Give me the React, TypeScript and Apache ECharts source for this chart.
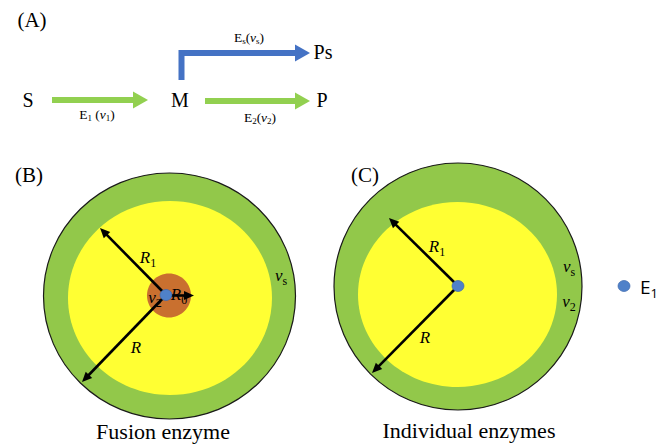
import React, { useEffect, useRef } from 'react';
import * as echarts from 'echarts';

const W = 670;
const H = 445;
const SERIF = '"Liberation Serif", "Times New Roman", serif';
const SANS = '"Open Sans", "Noto Sans", sans-serif';

const GREEN_ARROW = '#92D050';
const BLUE_ARROW = '#4472C4';
const RING = '#92C84A';
const YELLOW = '#FFFF33';
const ORANGE = '#C9702F';
const DOT = '#4F81C9';

// Panel labels
const panelLabels = [
  { t: '(A)', x: 32, y: 20 },
  { t: '(B)', x: 29, y: 175 },
  { t: '(C)', x: 365, y: 175 },
];
// Pathway nodes
const nodeLabels = [
  { t: 'S', x: 28, y: 100 },
  { t: 'M', x: 180, y: 100 },
  { t: 'P', x: 322, y: 100 },
  { t: 'Ps', x: 323, y: 52 },
];
// Pathway arrows (thick)
const flowArrows = [
  { pts: [[52, 100], [148, 100]], color: GREEN_ARROW },
  { pts: [[205, 101], [310, 101]], color: GREEN_ARROW },
  { pts: [[181.5, 80], [181.5, 53], [310, 53]], color: BLUE_ARROW },
];
// Rich labels
const richLabels = [
  { t: '{n|E}{s|1}{n| (}{i|v}{s|1}{n|)}', x: 97, y: 115, size: 13.5 },
  { t: '{n|E}{s|2}{n|(}{i|v}{s|2}{n|)}', x: 260, y: 118, size: 13.5 },
  { t: '{n|E}{s|s}{n|(}{i|v}{s|s}{n|)}', x: 249, y: 38, size: 13.5 },
  // panel B
  { t: '{i|R}{s|1}', x: 148, y: 258, size: 17 },
  { t: '{i|R}', x: 136, y: 348, size: 17 },
  { t: '{i|R}{s|0}', x: 179, y: 295, size: 17 },
  { t: '{i|v}{s|2}', x: 155, y: 298, size: 17 },
  { t: '{i|v}{s|s}', x: 281, y: 276, size: 17 },
  // panel C
  { t: '{i|R}{s|1}', x: 437, y: 247, size: 17 },
  { t: '{i|R}', x: 425, y: 338, size: 17 },
  { t: '{i|v}{s|s}', x: 569, y: 267, size: 17 },
  { t: '{i|v}{s|2}', x: 569, y: 302, size: 17 },
];
// Discs
const discs = [
  { cx: 169.5, cy: 296, rx: 126, ry: 123, fill: RING, stroke: '#1a1a1a' },
  { cx: 170, cy: 298, rx: 102, ry: 97, fill: YELLOW, stroke: null },
  { cx: 169, cy: 295.5, rx: 22, ry: 22, fill: ORANGE, stroke: null },
  { cx: 458, cy: 286.5, rx: 124, ry: 123.5, fill: RING, stroke: '#1a1a1a' },
  { cx: 457.5, cy: 294.5, rx: 99.5, ry: 92.5, fill: YELLOW, stroke: null },
];
// Radius arrows: from -> to
const radiusArrows = [
  { from: [166, 295], to: [100, 228] },
  { from: [166, 295], to: [82, 382] },
  { from: [166, 295.5], to: [194, 295.5] },
  { from: [458, 286], to: [389, 218] },
  { from: [458, 286], to: [372, 373] },
];
// Enzyme dots
const dots = [
  { cx: 166, cy: 295, r: 5.5 },
  { cx: 458, cy: 286, r: 5.5 },
  { cx: 624, cy: 286, r: 5.5 },
];
const captions = [
  { t: 'Fusion enzyme', x: 163, y: 431 },
  { t: 'Individual enzymes', x: 469, y: 430 },
];

function head(from: number[], to: number[], len: number, wid: number, fill: string) {
  const dx = to[0] - from[0];
  const dy = to[1] - from[1];
  const d = Math.hypot(dx, dy);
  const ux = dx / d, uy = dy / d;
  const px = -uy, py = ux;
  const bx = to[0] - ux * len, by = to[1] - uy * len;
  return {
    el: {
      type: 'polygon',
      shape: { points: [[to[0], to[1]], [bx + px * wid / 2, by + py * wid / 2], [bx - px * wid / 2, by - py * wid / 2]] },
      style: { fill },
      z: 10,
    },
    base: [bx + ux * 1, by + uy * 1],
  };
}

function richStyles(size: number, family: string) {
  const sub = Math.round(size * 0.68);
  return {
    n: { fontSize: size, fontFamily: family, lineHeight: size + 2, verticalAlign: 'top', fill: '#000', color: '#000' },
    i: { fontSize: size, fontFamily: family, fontStyle: 'italic', lineHeight: size + 2, verticalAlign: 'top', fill: '#000', color: '#000' },
    s: { fontSize: sub, fontFamily: family, lineHeight: sub, padding: [Math.round(size * 0.45), 0, 0, 0], verticalAlign: 'top', fill: '#000', color: '#000' },
  };
}

export default function App() {
  const ref = useRef<HTMLDivElement>(null);
  useEffect(() => {
    document.body.style.margin = '0';
    const chart = echarts.init(ref.current!, null, { renderer: 'svg' });
    const els: any[] = [];

    discs.forEach((d) => {
      els.push({
        type: 'ellipse',
        shape: { cx: d.cx, cy: d.cy, rx: d.rx, ry: d.ry },
        style: { fill: d.fill, stroke: d.stroke || undefined, lineWidth: d.stroke ? 1.2 : 0 },
        z: 1,
      });
    });

    flowArrows.forEach((a) => {
      const n = a.pts.length;
      const h = head(a.pts[n - 2], a.pts[n - 1], 15, 17, a.color);
      const pts = a.pts.slice(0, n - 1).concat([h.base]);
      els.push({
        type: 'polyline',
        shape: { points: pts },
        style: { stroke: a.color, lineWidth: 6, fill: null, lineJoin: 'miter', lineCap: 'butt' },
        z: 5,
      });
      els.push(h.el);
    });

    radiusArrows.forEach((a) => {
      const h = head(a.from, a.to, 10, 9, '#000');
      els.push({
        type: 'line',
        shape: { x1: a.from[0], y1: a.from[1], x2: h.base[0], y2: h.base[1] },
        style: { stroke: '#000', lineWidth: 2.6 },
        z: 6,
      });
      els.push(h.el);
    });

    dots.forEach((d) => {
      els.push({
        type: 'ellipse',
        shape: { cx: d.cx, cy: d.cy, rx: d.r + 0.5, ry: d.r },
        style: { fill: DOT, stroke: '#3a64a8', lineWidth: 0.6 },
        z: 12,
      });
    });

    const center = { align: 'center', verticalAlign: 'middle', textAlign: 'center', textVerticalAlign: 'middle' };
    panelLabels.forEach((p) => {
      els.push({ type: 'text', x: p.x, y: p.y, z: 20, style: { text: p.t, fontSize: 21, fontFamily: SERIF, fill: '#000', ...center } });
    });
    nodeLabels.forEach((p) => {
      els.push({ type: 'text', x: p.x, y: p.y, z: 20, style: { text: p.t, fontSize: 20, fontFamily: SERIF, fill: '#000', ...center } });
    });
    richLabels.forEach((p) => {
      els.push({ type: 'text', x: p.x, y: p.y, z: 20, style: { text: p.t, rich: richStyles(p.size, SERIF), fill: '#000', ...center } });
    });
    captions.forEach((p) => {
      els.push({ type: 'text', x: p.x, y: p.y, z: 20, style: { text: p.t, fontSize: 22, fontFamily: SERIF, fill: '#000', ...center } });
    });
    // legend E1
    els.push({
      type: 'text', x: 640, y: 287, z: 20,
      style: {
        text: '{n|E}{s|1}',
        rich: {
          n: { fontSize: 19, fontFamily: SANS, lineHeight: 20, verticalAlign: 'top', fill: '#000' },
          s: { fontSize: 13, fontFamily: SANS, lineHeight: 13, padding: [9, 0, 0, 0], verticalAlign: 'top', fill: '#000' },
        },
        align: 'left', verticalAlign: 'middle', textAlign: 'left', textVerticalAlign: 'middle',
      },
    });

    chart.setOption({
      animation: false,
      backgroundColor: '#ffffff',
      graphic: { elements: els },
    });
    return () => chart.dispose();
  }, []);
  return <div ref={ref} style={{ width: W, height: H }} />;
}
